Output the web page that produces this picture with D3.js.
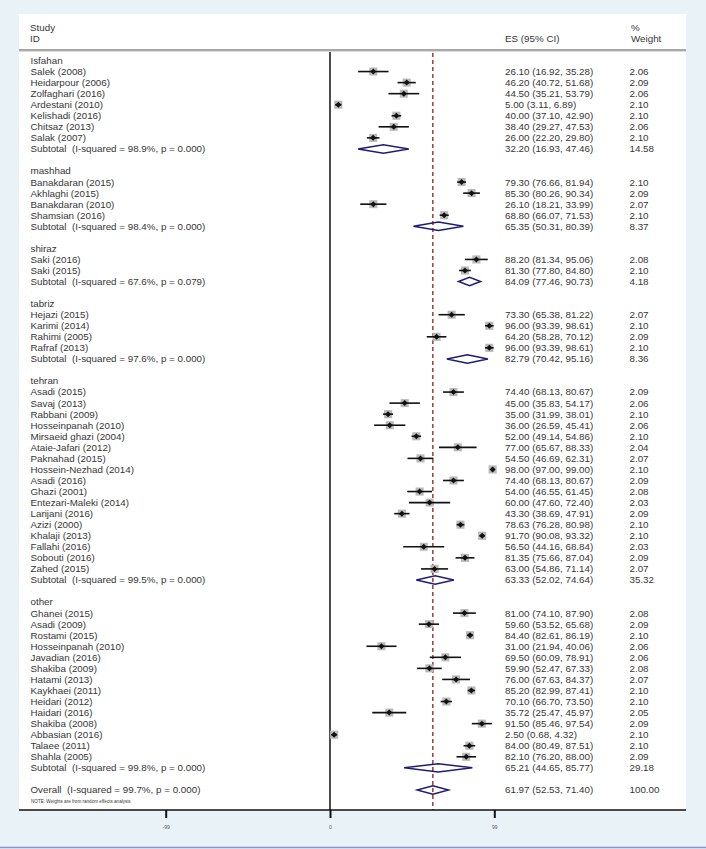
<!DOCTYPE html>
<html><head><meta charset="utf-8">
<script src="https://cdn.jsdelivr.net/npm/d3@7"></script>
<style>
body{margin:0;background:#e9f3f7;}
svg{display:block;}
text{font-family:"Liberation Sans",Arial,Helvetica,sans-serif;white-space:pre;}
</style>
</head><body>
<svg id="c" width="706" height="849"></svg>
<script>
// ---- data ----
const groupNames = ["Isfahan","mashhad","shiraz","tabriz","tehran","other"];

const studyGroup = [
 0,0,0,0,0,0,0,
 1,1,1,1,
 2,2,
 3,3,3,3,
 4,4,4,4,4,4,4,4,4,4,4,4,4,4,4,4,4,
 5,5,5,5,5,5,5,5,5,5,5,5,5,5];
const studyNames = [
 "Salek (2008)","Heidarpour (2006)","Zolfaghari (2016)","Ardestani (2010)","Kelishadi (2016)","Chitsaz (2013)","Salak (2007)",
 "Banakdaran (2015)","Akhlaghi (2015)","Banakdaran (2010)","Shamsian (2016)",
 "Saki (2016)","Saki (2015)",
 "Hejazi (2015)","Karimi (2014)","Rahimi (2005)","Rafraf (2013)",
 "Asadi (2015)","Savaj (2013)","Rabbani (2009)","Hosseinpanah (2010)","Mirsaeid ghazi (2004)","Ataie-Jafari (2012)","Paknahad (2015)","Hossein-Nezhad (2014)","Asadi (2016)","Ghazi (2001)","Entezari-Maleki (2014)","Larijani (2016)","Azizi (2000)","Khalaji (2013)","Fallahi (2016)","Sobouti (2016)","Zahed (2015)",
 "Ghanei (2015)","Asadi (2009)","Rostami (2015)","Hosseinpanah (2010)","Javadian (2016)","Shakiba (2009)","Hatami (2013)","Kaykhaei (2011)","Heidari (2012)","Haidari (2016)","Shakiba (2008)","Abbasian (2016)","Talaee (2011)","Shahla (2005)"];
const studyES = [
 26.10,46.20,44.50,5.00,40.00,38.40,26.00,
 79.30,85.30,26.10,68.80,
 88.20,81.30,
 73.30,96.00,64.20,96.00,
 74.40,45.00,35.00,36.00,52.00,77.00,54.50,98.00,74.40,54.00,60.00,43.30,78.63,91.70,56.50,81.35,63.00,
 81.00,59.60,84.40,31.00,69.50,59.90,76.00,85.20,70.10,35.72,91.50,2.50,84.00,82.10];
const studyLo = [
 16.92,40.72,35.21,3.11,37.10,29.27,22.20,
 76.66,80.26,18.21,66.07,
 81.34,77.80,
 65.38,93.39,58.28,93.39,
 68.13,35.83,31.99,26.59,49.14,65.67,46.69,97.00,68.13,46.55,47.60,38.69,76.28,90.08,44.16,75.66,54.86,
 74.10,53.52,82.61,21.94,60.09,52.47,67.63,82.99,66.70,25.47,85.46,0.68,80.49,76.20];
const studyHi = [
 35.28,51.68,53.79,6.89,42.90,47.53,29.80,
 81.94,90.34,33.99,71.53,
 95.06,84.80,
 81.22,98.61,70.12,98.61,
 80.67,54.17,38.01,45.41,54.86,88.33,62.31,99.00,80.67,61.45,72.40,47.91,80.98,93.32,68.84,87.04,71.14,
 87.90,65.68,86.19,40.06,78.91,67.33,84.37,87.41,73.50,45.97,97.54,4.32,87.51,88.00];
const studyWeight = [
 2.06,2.09,2.06,2.10,2.10,2.06,2.10,
 2.10,2.09,2.07,2.10,
 2.08,2.10,
 2.07,2.10,2.09,2.10,
 2.09,2.06,2.10,2.06,2.10,2.04,2.07,2.10,2.09,2.08,2.03,2.09,2.10,2.10,2.03,2.09,2.07,
 2.08,2.09,2.10,2.06,2.06,2.08,2.07,2.10,2.10,2.05,2.09,2.10,2.10,2.09];

const subI2 = ["98.9%","98.4%","67.6%","97.6%","99.5%","99.8%"];
const subP = ["0.000","0.000","0.079","0.000","0.000","0.000"];
const subES = [32.20,65.35,84.09,82.79,63.33,65.21];
const subLo = [16.93,50.31,77.46,70.42,52.02,44.65];
const subHi = [47.46,80.39,90.73,95.16,74.64,85.77];
const subWeight = [14.58,8.37,4.18,8.36,35.32,29.18];

const overallI2 = "99.7%", overallP = "0.000";
const overallES = 61.97, overallLo = 52.53, overallHi = 71.40, overallWeight = 100.00;

const axisTicks = [-99, 0, 99];
const axisTickLabels = ["-99", "0", "99"];

// ---- build rows ----
const rows = [];
groupNames.forEach((g, gi) => {
  rows.push({type: "group", label: g});
  studyNames.forEach((n, i) => {
    if (studyGroup[i] === gi) rows.push({type: "study", label: n, es: studyES[i], lo: studyLo[i], hi: studyHi[i], w: studyWeight[i]});
  });
  rows.push({type: "sub", label: "Subtotal  (I-squared = " + subI2[gi] + ", p = " + subP[gi] + ")", es: subES[gi], lo: subLo[gi], hi: subHi[gi], w: subWeight[gi]});
  rows.push({type: "blank", label: "."});
});
rows.push({type: "overall", label: "Overall  (I-squared = " + overallI2 + ", p = " + overallP + ")", es: overallES, lo: overallLo, hi: overallHi, w: overallWeight});
rows.push({type: "note", label: "NOTE: Weights are from random effects analysis"});

// ---- layout ----
const svg = d3.select("#c");
const panel = {x0: 19, x1: 686, y0: 14, y1: 810};
const x = d3.scaleLinear().domain([0, 99]).range([330, 494.3]);
const y = d3.scaleLinear().domain([0, rows.length - 1]).range([60.5, 801]);
const f2 = d3.format(".2f");
const txtCol = "#363636";
const fs = 9.8;

svg.append("rect").attr("x", panel.x0).attr("y", panel.y0)
  .attr("width", panel.x1 - panel.x0).attr("height", panel.y1 - panel.y0).attr("fill", "#fff");

// header
const hdr = svg.append("g").attr("fill", txtCol).attr("font-size", fs);
hdr.append("text").attr("x", 30).attr("y", 30.5).text("Study");
hdr.append("text").attr("x", 30).attr("y", 41.5).text("ID");
hdr.append("text").attr("x", 505).attr("y", 41.5).text("ES (95% CI)");
hdr.append("text").attr("x", 631).attr("y", 30.5).text("%");
hdr.append("text").attr("x", 631).attr("y", 41.5).text("Weight");
svg.append("line").attr("x1", panel.x0).attr("x2", panel.x1).attr("y1", 50).attr("y2", 50)
  .attr("stroke", "#a8a8a8").attr("stroke-width", 2);
svg.append("line").attr("x1", panel.x0).attr("x2", panel.x1).attr("y1", 51.5).attr("y2", 51.5)
  .attr("stroke", "#dcdcdc").attr("stroke-width", 1);

// reference lines
svg.append("line").attr("x1", x(0)).attr("x2", x(0)).attr("y1", 52).attr("y2", panel.y1)
  .attr("stroke", "#111").attr("stroke-width", 1.5);
svg.append("line").attr("x1", x(overallES)).attr("x2", x(overallES)).attr("y1", 53).attr("y2", panel.y1)
  .attr("stroke", "#9b2a2f").attr("stroke-width", 1.4).attr("stroke-dasharray", "4,3");

// text columns
const tg = svg.append("g").attr("fill", txtCol).attr("font-size", fs);
rows.forEach((r, i) => {
  const yy = y(i);
  if (r.type === "note") {
    tg.append("text").attr("x", 31).attr("y", yy).attr("dy", "0.35em").attr("font-size", 4.6).text(r.label);
    return;
  }
  if (r.type === "blank") {
    tg.append("text").attr("x", 31).attr("y", yy).attr("dy", "0.1em").attr("font-size", 5).attr("fill", "#aaa").text(r.label);
    return;
  }
  tg.append("text").attr("x", 30.5).attr("y", yy).attr("dy", "0.35em").text(r.label);
  if (r.es !== undefined) {
    tg.append("text").attr("x", 505).attr("y", yy).attr("dy", "0.35em")
      .text(f2(r.es) + " (" + f2(r.lo) + ", " + f2(r.hi) + ")");
    tg.append("text").attr("x", 629.5).attr("y", yy).attr("dy", "0.35em").text(f2(r.w));
  }
});

// study markers
const mg = svg.append("g");
rows.forEach((r, i) => {
  const yy = y(i);
  if (r.type === "study") {
    const s = Math.sqrt(r.w) * 5.6;
    mg.append("rect").attr("x", x(r.es) - s / 2).attr("y", yy - s / 2).attr("width", s).attr("height", s)
      .attr("fill", "#b9b9b9");
    mg.append("line").attr("x1", x(r.lo)).attr("x2", x(r.hi)).attr("y1", yy).attr("y2", yy)
      .attr("stroke", "#111").attr("stroke-width", 1.6);
    const cx = x(r.es), d = 3;
    mg.append("path").attr("d", `M${cx - d},${yy}L${cx},${yy - d}L${cx + d},${yy}L${cx},${yy + d}Z`).attr("fill", "#111");
  } else if (r.type === "sub" || r.type === "overall") {
    const h = 4.2;
    mg.append("path")
      .attr("d", `M${x(r.lo)},${yy}L${x(r.es)},${yy - h}L${x(r.hi)},${yy}L${x(r.es)},${yy + h}Z`)
      .attr("fill", "none").attr("stroke", "#1d1d78").attr("stroke-width", 1.5);
  }
});

// axis
const axis = d3.axisBottom(x).tickValues(axisTicks).tickSize(8).tickPadding(7)
  .tickFormat((d, i) => axisTickLabels[i]);
const ag = svg.append("g").attr("transform", `translate(0,${panel.y1})`).call(axis);
ag.select(".domain").remove();
ag.selectAll(".tick line").attr("stroke", "#111").attr("stroke-width", 2);
ag.selectAll(".tick text").attr("fill", "#555").attr("font-size", 5)
  .attr("font-family", '"Liberation Sans",Arial,sans-serif');
svg.append("line").attr("x1", panel.x0).attr("x2", panel.x1).attr("y1", panel.y1).attr("y2", panel.y1)
  .attr("stroke", "#111").attr("stroke-width", 1.6);

// bottom border line
svg.append("line").attr("x1", 0).attr("x2", 706).attr("y1", 847.5).attr("y2", 847.5)
  .attr("stroke", "#8e92cc").attr("stroke-width", 1.5);
</script>
</body></html>
